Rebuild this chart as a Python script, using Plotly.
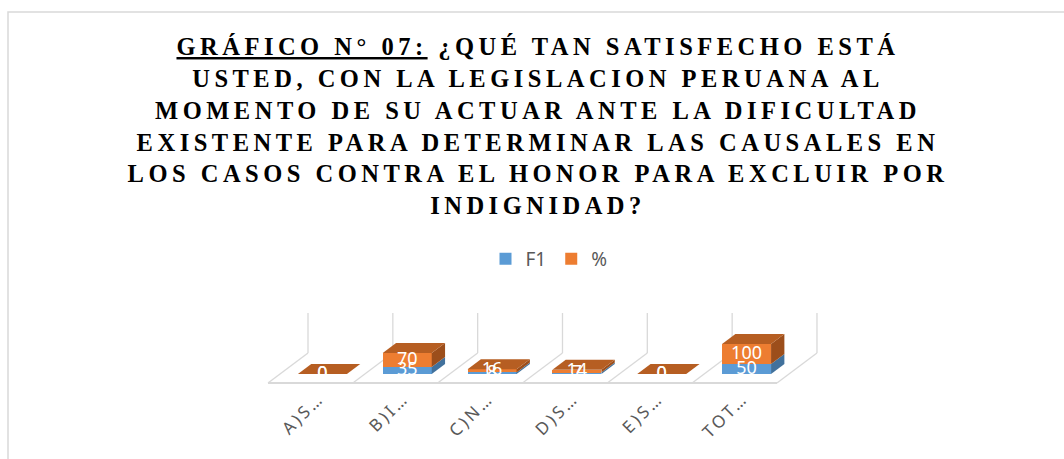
import plotly.graph_objects as go

# ---------------- data ----------------
categories = ["A)S…", "B)I…", "C)N…", "D)S…", "E)S…", "TOT…"]
f1_values = [0, 35, 8, 7, 0, 50]
pct_values = [0, 70, 16, 14, 0, 100]
series_names = ["F1", "%"]

title_lines = [
    "GRÁFICO N° 07:",
    "¿QUÉ TAN SATISFECHO ESTÁ",
    "USTED, CON LA LEGISLACION PERUANA AL",
    "MOMENTO DE SU ACTUAR ANTE LA DIFICULTAD",
    "EXISTENTE PARA DETERMINAR LAS CAUSALES EN",
    "LOS CASOS CONTRA EL HONOR PARA EXCLUIR POR",
    "INDIGNIDAD?",
]

# ---------------- styling / geometry ----------------
W, H = 1064, 459
UNIT = 84.83          # px per category
VPP = 5.0             # value units per px
FRONT_LEFT_PX = 268
BASE_PX = 374
xr = [(0 - FRONT_LEFT_PX) / UNIT - 0.5, (W - FRONT_LEFT_PX) / UNIT - 0.5]
yr = [(BASE_PX - H) * VPP, BASE_PX * VPP]

DX = 40 / UNIT        # floor depth (x)
DY = 30 * VPP         # floor depth (y)
BAR_DEPTH0 = 0.3
BAR_DEPTH = 0.333
BAR_W = 49 / UNIT
floor_front = -BAR_DEPTH0 * DY
floor_back = floor_front + DY
wall_top = floor_back + 40 * VPP
ddx, ddy = BAR_DEPTH * DX, BAR_DEPTH * DY

BLUE, BLUE_SIDE = "#5B9BD5", "#41719C"
ORANGE, ORANGE_TOP, ORANGE_SIDE = "#ED7D31", "#B65E22", "#9C4E1B"
GRID = "#D9D9D9"

n = len(categories)
xc = [i + BAR_DEPTH0 * DX for i in range(n)]

fig = go.Figure()
fig.add_trace(go.Bar(x=xc, y=f1_values, width=BAR_W, name=series_names[0],
                     marker=dict(color=BLUE, line=dict(width=0))))
fig.add_trace(go.Bar(x=xc, y=pct_values, width=BAR_W, name=series_names[1],
                     marker=dict(color=ORANGE, line=dict(width=0))))

# 3D faces computed from data
for i in range(n):
    xl, xrt = xc[i] - BAR_W / 2, xc[i] + BAR_W / 2
    segs = [(0, f1_values[i], BLUE_SIDE), (f1_values[i], f1_values[i] + pct_values[i], ORANGE_SIDE)]
    for b, t, col in segs:
        if t > b:
            fig.add_trace(go.Scatter(
                x=[xrt, xrt + ddx, xrt + ddx, xrt, xrt],
                y=[b, b + ddy, t + ddy, t, b],
                fill="toself", fillcolor=col, mode="lines", line=dict(width=0, color=col),
                showlegend=False, hoverinfo="skip"))
    T = f1_values[i] + pct_values[i]
    fig.add_trace(go.Scatter(
        x=[xl, xrt, xrt + ddx, xl + ddx, xl],
        y=[T, T, T + ddy, T + ddy, T],
        fill="toself", fillcolor=ORANGE_TOP, mode="lines", line=dict(width=0, color=ORANGE_TOP),
        showlegend=False, hoverinfo="skip"))

# data labels
fig.add_trace(go.Scatter(
    x=xc, y=[v / 2 for v in f1_values], mode="text",
    text=[str(v) for v in f1_values],
    textfont=dict(color="white", size=18, family="Noto Sans"),
    showlegend=False, hoverinfo="skip"))
fig.add_trace(go.Scatter(
    x=xc, y=[a + b / 2 for a, b in zip(f1_values, pct_values)], mode="text",
    text=[str(v) for v in pct_values],
    textfont=dict(color="white", size=18, family="Noto Sans"),
    showlegend=False, hoverinfo="skip"))

# floor & wall gridlines
shapes = []
for k in range(n + 1):
    xf = k - 0.5
    shapes.append(dict(type="line", x0=xf, y0=floor_front, x1=xf + DX, y1=floor_back,
                       line=dict(color=GRID, width=1.3), layer="below"))
    shapes.append(dict(type="line", x0=xf + DX, y0=floor_back, x1=xf + DX, y1=wall_top,
                       line=dict(color=GRID, width=1.3), layer="below"))
shapes.append(dict(type="line", x0=-0.5, y0=floor_front, x1=n - 0.5, y1=floor_front,
                   line=dict(color=GRID, width=2), layer="below"))
# chart border
shapes.append(dict(type="rect", xref="paper", yref="paper", x0=8 / W, x1=1.05,
                   y0=-0.05, y1=1 - 12 / H, line=dict(color=GRID, width=1.5), layer="below"))

title_html = "<br>".join(
    ['<span style="letter-spacing:4.5px"><span style="text-decoration:underline">'
     + title_lines[0] + "</span> " + title_lines[1] + "</span>"]
    + ['<span style="letter-spacing:4.5px">' + t + "</span>" for t in title_lines[2:]]
)

fig.update_layout(
    width=W, height=H,
    margin=dict(l=0, r=0, t=0, b=0),
    paper_bgcolor="white", plot_bgcolor="rgba(0,0,0,0)",
    barmode="stack", bargap=0,
    shapes=shapes,
    title=dict(text=title_html, x=(W / 2 + 6) / W, xanchor="center", y=1 - 55 / H, yanchor="top",
               font=dict(family="Liberation Serif", size=24.5, color="black", weight="bold")),
    legend=dict(orientation="h", x=549 / W, xanchor="center", y=1 - 259 / H, yanchor="middle",
                font=dict(family="Noto Sans", size=19, color="#595959"),
                traceorder="normal", itemwidth=30, bgcolor="rgba(0,0,0,0)"),
    xaxis=dict(range=xr, showgrid=False, zeroline=False, showline=False,
               anchor="free", position=1 - 384 / H,
               tickmode="array", tickvals=[x - 0.04 for x in xc],
               ticktext=['<span style="letter-spacing:3px">' + c + "</span>" for c in categories],
               tickangle=-45, ticks="",
               tickfont=dict(family="Noto Sans", size=17, color="#595959"),
               automargin=False, fixedrange=True),
    yaxis=dict(range=yr, showgrid=False, zeroline=False, showline=False,
               showticklabels=False, automargin=False, fixedrange=True),
    showlegend=True,
)

fig.write_html("out.html", config={"displayModeBar": False},
               post_script="document.body.style.margin='0';document.body.style.overflow='hidden';")
